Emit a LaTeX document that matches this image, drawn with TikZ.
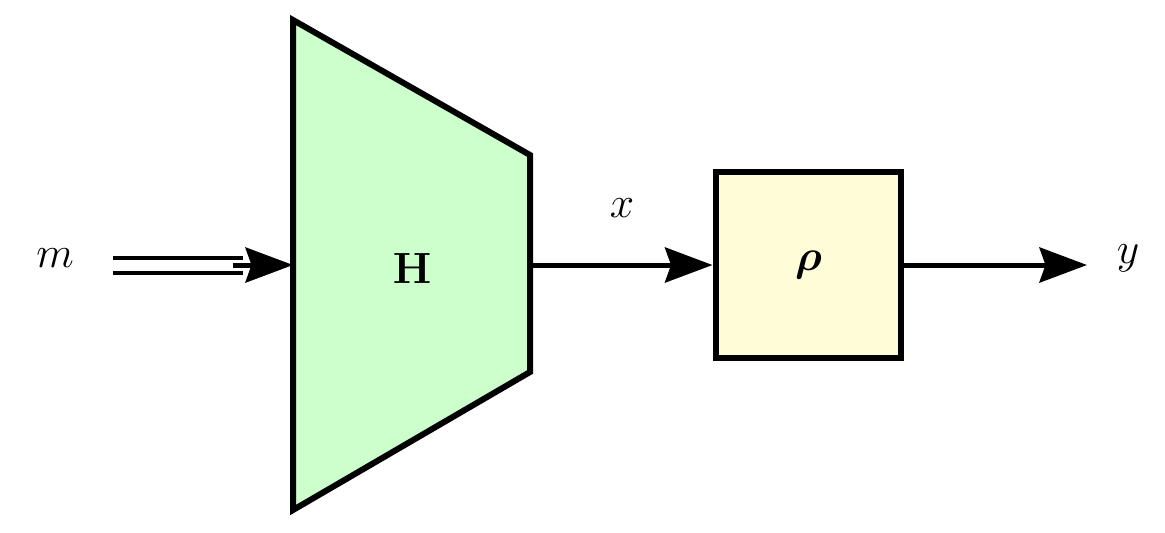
\documentclass[tikz,border=0pt]{standalone}
\usepackage{amsmath,amssymb,bm}
\usetikzlibrary{arrows.meta}
\definecolor{hgreen}{HTML}{CCFFCC}
\definecolor{ryellow}{HTML}{FFFCD8}
\tikzset{
  conn/.style={line width=0.1cm,-{Stealth[length=0.95cm,width=0.7cm,inset=0.12cm]}},
  lbl/.style={font=\fontsize{40}{48}\selectfont},
}
\begin{document}
\begin{tikzpicture}[x=0.02cm,y=-0.02cm]
\useasboundingbox (0,0) rectangle (1165,532);
\coordinate (tl) at (293,20);
\coordinate (bl) at (293,510);
\coordinate (tr) at (530,155);
\coordinate (br) at (530,372);
\filldraw[fill=hgreen,line width=0.12cm,line join=miter] (tl) -- (tr) -- (br) -- (bl) -- cycle;
\node (H) at (412,268) {\fontsize{38}{46}\selectfont$\mathbf{H}$};
\coordinate (Hin) at (293,265);
\coordinate (Hout) at (530,265);
\node[draw,fill=ryellow,line width=0.12cm,minimum width=3.72cm,minimum height=3.72cm,inner sep=0pt] (rho) at (808.5,265) {\fontsize{40}{48}\selectfont$\bm{\rho}$};
\node[lbl] (m) at (55,258) {$m$};
\node[lbl] (x) at (622,208) {$x$};
\node[lbl] (y) at (1128,258) {$y$};
\coordinate (ms) at (113,265);
\coordinate (ye) at (1087,265);
\draw[line width=0.08cm] ([yshift=0.15cm]ms) -- ([xshift=-1.0cm,yshift=0.15cm]Hin);
\draw[line width=0.08cm] ([yshift=-0.15cm]ms) -- ([xshift=-1.0cm,yshift=-0.15cm]Hin);
\draw[conn] ([xshift=-1.2cm]Hin) -- (Hin);
\draw[conn] (Hout) -- (rho.west);
\draw[conn] (rho.east) -- (ye);
\end{tikzpicture}
\end{document}
